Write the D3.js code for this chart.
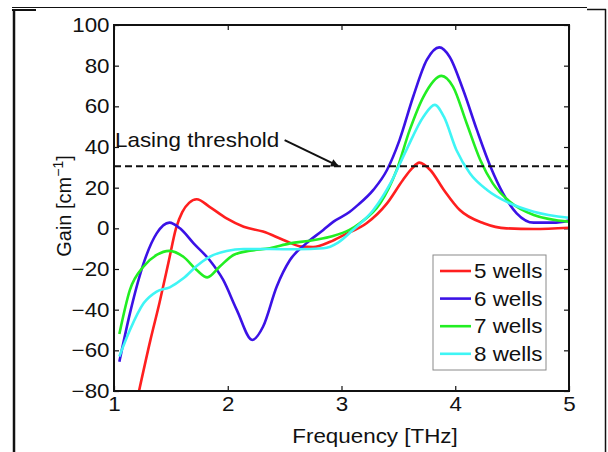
<!DOCTYPE html>
<html>
<head>
<meta charset="utf-8">
<script src="https://cdn.jsdelivr.net/npm/d3@7"></script>
<style>
  body { margin: 0; background: #fff; }
  svg { display: block; }
  text { font-family: "Liberation Sans", Arial, sans-serif; fill: #111; }
</style>
</head>
<body>
<svg id="chart" width="608" height="452"></svg>
<script>
// Gain curves (frequency in THz, gain in cm^-1)
const freq5 = [1.22, 1.32, 1.40, 1.48, 1.545, 1.60, 1.66, 1.727, 1.84, 1.99, 2.14, 2.31, 2.49, 2.65, 2.75, 2.90, 3.02, 3.22, 3.40, 3.54, 3.62, 3.684, 3.78, 3.90, 4.04, 4.25, 4.45, 4.69, 5.0];
const gain5 = [-80, -55, -36.6, -16.5, 0, 8, 12.5, 14.3, 10.6, 4.9, 0.8, -1.6, -5.7, -9.0, -9.2, -6.6, -3.3, 2.5, 12.3, 23.8, 29.5, 32.3, 28.7, 18.9, 9.0, 2.5, 0, -0.3, 0.3];

const freq6 = [1.047, 1.14, 1.26, 1.375, 1.487, 1.58, 1.70, 1.84, 1.96, 2.08, 2.216, 2.31, 2.43, 2.547, 2.69, 2.84, 2.93, 3.07, 3.13, 3.28, 3.40, 3.51, 3.63, 3.75, 3.86, 3.95, 4.07, 4.19, 4.31, 4.42, 4.54, 4.69, 4.86, 5.0];
const gain6 = [-65.6, -41.8, -17.2, -2.5, 2.8, 0, -7.4, -15.6, -25.4, -40.2, -54.9, -48.4, -28.7, -15.6, -7.4, -0.8, 3.3, 8.0, 10.8, 18.9, 28.7, 43.4, 64.7, 82.8, 89, 84.4, 68, 48.4, 30.3, 17.2, 7.4, 2.8, 2.8, 3.8];

const freq7 = [1.047, 1.14, 1.26, 1.375, 1.487, 1.61, 1.727, 1.82, 1.93, 2.05, 2.196, 2.37, 2.547, 2.72, 2.90, 3.07, 3.16, 3.34, 3.485, 3.60, 3.72, 3.88, 3.98, 4.10, 4.22, 4.33, 4.48, 4.69, 5.0];
const gain7 = [-52, -30.3, -18.8, -13.1, -11.1, -14, -20.5, -24.1, -18.8, -13.1, -11, -9.8, -7.4, -6.1, -4.1, -0.8, 2.5, 12.3, 28.7, 48.4, 64.7, 75, 69.7, 51.7, 33.6, 22.1, 13.1, 6.6, 3.3];

const freq8 = [1.047, 1.14, 1.26, 1.375, 1.49, 1.61, 1.727, 1.84, 1.99, 2.14, 2.37, 2.61, 2.84, 2.97, 3.10, 3.28, 3.43, 3.57, 3.72, 3.82, 3.90, 4.01, 4.13, 4.28, 4.45, 4.69, 5.0];
const gain8 = [-63, -50, -36.9, -31.1, -29, -24.6, -18.5, -14, -11.1, -10.2, -10.2, -10.3, -9.8, -7.0, -0.8, 9, 22.1, 38.5, 54.9, 60.7, 54.9, 38.5, 27, 18.9, 13.1, 8.2, 5.2];

const seriesNames = ["5 wells", "6 wells", "7 wells", "8 wells"];
const seriesColors = ["#ff1f1f", "#3b12e6", "#22ee22", "#3ff5f5"];
const xTicks = [1, 2, 3, 4, 5];
const yTicks = [-80, -60, -40, -20, 0, 20, 40, 60, 80, 100];
const threshold = 30.5;
const arrowFrom = [2.5, 43.4];
const arrowTo = [2.97, 30.7];

const allSeries = [
    { x: freq5, y: gain5 },
    { x: freq6, y: gain6 },
    { x: freq7, y: gain7 },
    { x: freq8, y: gain8 }
];

// the scanned figure is a bit wider than a normal font
const STRETCH = 1.12;

const margin = { top: 25, right: 39, bottom: 61, left: 114 };
const width = 608 - margin.left - margin.right;
const height = 452 - margin.top - margin.bottom;

const svg = d3.select("#chart");
svg.append("rect").attr("width", 608).attr("height", 452).attr("fill", "#fff");

// outer frame of the scanned page
const frame = svg.append("g").attr("stroke", "#111").attr("fill", "none");
frame.append("line").attr("x1", 12).attr("x2", 587).attr("y1", 7.5).attr("y2", 7.5).attr("stroke-width", 1);
frame.append("line").attr("x1", 12).attr("x2", 36).attr("y1", 10).attr("y2", 10).attr("stroke-width", 2);
frame.append("line").attr("x1", 14).attr("x2", 14).attr("y1", 9).attr("y2", 452).attr("stroke-width", 2.5);
frame.append("line").attr("x1", 587).attr("x2", 606).attr("y1", 9.5).attr("y2", 9.5).attr("stroke-width", 1.5);
frame.append("line").attr("x1", 605.5).attr("x2", 605.5).attr("y1", 9).attr("y2", 452).attr("stroke-width", 1.5);

const g = svg.append("g").attr("transform", `translate(${margin.left},${margin.top})`);

const x = d3.scaleLinear().domain([1, 5]).range([0, width]);
const y = d3.scaleLinear().domain([-80, 100]).range([height, 0]);

g.append("clipPath").attr("id", "plot-clip")
    .append("rect").attr("width", width).attr("height", height);

// Axes with inward ticks
function styleAxis(sel) {
    sel.select(".domain").remove();
    sel.selectAll(".tick line").attr("stroke", "#111").attr("stroke-width", 1.2);
    sel.selectAll(".tick text")
        .attr("font-size", "20px")
        .attr("fill", "#111")
        .attr("transform", `scale(${STRETCH},1)`);
}

g.append("g")
    .attr("transform", `translate(0,${height})`)
    .call(d3.axisBottom(x).tickValues(xTicks).tickSizeInner(-5).tickSizeOuter(0).tickPadding(6).tickFormat(d3.format("d")))
    .call(styleAxis);

g.append("g")
    .call(d3.axisLeft(y).tickValues(yTicks).tickSizeInner(-5).tickSizeOuter(0).tickPadding(4)
        .tickFormat(d => d < 0 ? "\u2212" + Math.abs(d) : String(d)))
    .call(styleAxis);

g.append("g")
    .call(d3.axisTop(x).tickValues(xTicks).tickSizeInner(-5).tickSizeOuter(0).tickFormat(""))
    .call(styleAxis);

g.append("g")
    .attr("transform", `translate(${width},0)`)
    .call(d3.axisRight(y).tickValues(yTicks).tickSizeInner(-5).tickSizeOuter(0).tickFormat(""))
    .call(styleAxis);

// Curves
const line = d3.line()
    .x(d => x(d[0]))
    .y(d => y(d[1]))
    .curve(d3.curveMonotoneX);

const curves = g.append("g").attr("clip-path", "url(#plot-clip)");
allSeries.forEach((s, i) => {
    curves.append("path")
        .datum(s.x.map((f, j) => [f, s.y[j]]))
        .attr("fill", "none")
        .attr("stroke", seriesColors[i])
        .attr("stroke-width", 2.6)
        .attr("stroke-linejoin", "round")
        .attr("d", line);
});

// Lasing threshold
g.append("line")
    .attr("x1", x(1)).attr("x2", x(5))
    .attr("y1", y(threshold)).attr("y2", y(threshold))
    .attr("stroke", "#111")
    .attr("stroke-width", 2)
    .attr("stroke-dasharray", "7,4");

svg.append("defs").append("marker")
    .attr("id", "arrow-head")
    .attr("viewBox", "0 0 10 10")
    .attr("refX", 9).attr("refY", 5)
    .attr("markerWidth", 10).attr("markerHeight", 8)
    .attr("markerUnits", "userSpaceOnUse")
    .attr("orient", "auto")
    .append("path").attr("d", "M0,0L10,5L0,10Z").attr("fill", "#111");

g.append("line")
    .attr("x1", x(arrowFrom[0])).attr("y1", y(arrowFrom[1]))
    .attr("x2", x(arrowTo[0])).attr("y2", y(arrowTo[1]))
    .attr("stroke", "#111")
    .attr("stroke-width", 2)
    .attr("marker-end", "url(#arrow-head)");

g.append("text")
    .attr("transform", `translate(1,${y(40.2)}) scale(${STRETCH},1)`)
    .attr("font-size", "20px")
    .text("Lasing threshold");

// Plot box
g.append("rect")
    .attr("width", width).attr("height", height)
    .attr("fill", "none")
    .attr("stroke", "#111")
    .attr("stroke-width", 2);

// Legend
const legend = g.append("g").attr("transform", `translate(${width - 136},${height - 136})`);
legend.append("rect")
    .attr("width", 113).attr("height", 115)
    .attr("fill", "#fff")
    .attr("stroke", "#8a8a8a")
    .attr("stroke-width", 1);

seriesNames.forEach((name, i) => {
    const row = legend.append("g").attr("transform", `translate(0,${16 + i * 27.6})`);
    row.append("line")
        .attr("x1", 7).attr("x2", 38)
        .attr("stroke", seriesColors[i])
        .attr("stroke-width", 2.6);
    row.append("text")
        .attr("transform", `translate(41,0) scale(${STRETCH},1)`)
        .attr("dy", "0.36em")
        .attr("font-size", "20px")
        .text(name);
});

// Axis titles
svg.append("text")
    .attr("transform", `translate(375,443) scale(${STRETCH},1)`)
    .attr("text-anchor", "middle")
    .attr("font-size", "20px")
    .text("Frequency [THz]");

const yLabel = svg.append("text")
    .attr("transform", "translate(71,206) rotate(-90)")
    .attr("text-anchor", "middle")
    .attr("font-size", "20px");
yLabel.append("tspan").text("Gain [cm");
yLabel.append("tspan").attr("dy", -8).attr("font-size", "14px").text("\u22121");
yLabel.append("tspan").attr("dy", 8).text("]");
</script>
</body>
</html>
